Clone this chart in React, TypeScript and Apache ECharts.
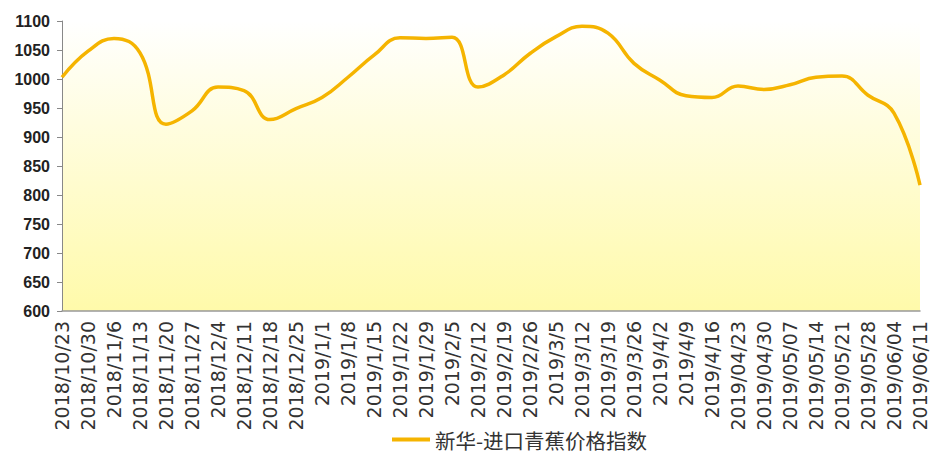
import React, { useEffect, useRef } from "react";
import * as echarts from "echarts";

const categories = [
  "2018/10/23", "2018/10/30", "2018/11/6", "2018/11/13", "2018/11/20", "2018/11/27",
  "2018/12/4", "2018/12/11", "2018/12/18", "2018/12/25", "2019/1/1", "2019/1/8",
  "2019/1/15", "2019/1/22", "2019/1/29", "2019/2/5", "2019/2/12", "2019/2/19",
  "2019/2/26", "2019/3/5", "2019/3/12", "2019/3/19", "2019/3/26", "2019/4/2",
  "2019/4/9", "2019/4/16", "2019/04/23", "2019/04/30", "2019/05/07", "2019/05/14",
  "2019/05/21", "2019/05/28", "2019/06/04", "2019/06/11",
];

const indexValues = [
  1003, 1048, 1070, 1045, 922, 945, 986, 980, 930, 949, 968, 1003,
  1041, 1071, 1070, 1072, 986, 1007, 1044, 1073, 1091, 1079, 1027, 998,
  971, 968, 988, 982, 990, 1003, 1005, 972, 941, 817,
];

const seriesName = "新华-进口青蕉价格指数";
const yMin = 600;
const yMax = 1100;
const yInterval = 50;

export default function App() {
  const ref = useRef<HTMLDivElement>(null);
  useEffect(() => {
    if (!ref.current) return;
    const chart = echarts.init(ref.current, undefined, { renderer: "svg" });
    chart.setOption({
      animation: false,
      backgroundColor: "#ffffff",
      grid: {
        left: 62,
        right: 11,
        top: 21,
        bottom: 144,
        show: true,
        borderWidth: 0,
        backgroundColor: new echarts.graphic.LinearGradient(0, 0, 0, 1, [
          { offset: 0, color: "#ffffff" },
          { offset: 0.35, color: "#fffde0" },
          { offset: 1, color: "#fffaaa" },
        ]),
      },
      legend: {
        data: [{ name: seriesName, icon: "rect" }],
        left: 392,
        top: 428,
        padding: 0,
        itemWidth: 38,
        itemHeight: 4,
        textStyle: {
          fontSize: 20.5,
          lineHeight: 23,
          color: "#333",
          fontFamily: "Noto Sans CJK SC",
        },
      },
      xAxis: {
        type: "category",
        data: categories,
        boundaryGap: false,
        axisLine: { show: true, lineStyle: { color: "#999", width: 1.5 } },
        axisTick: { show: false },
        axisLabel: {
          rotate: 90,
          interval: 0,
          margin: 10,
          fontSize: 19,
          color: "#333",
          fontFamily: "DejaVu Sans",
        },
        splitLine: { show: false },
      },
      yAxis: {
        type: "value",
        min: yMin,
        max: yMax,
        interval: yInterval,
        axisLine: { show: true, lineStyle: { color: "#888", width: 1 } },
        axisTick: { show: true, length: 5, lineStyle: { color: "#888" } },
        axisLabel: {
          margin: 12,
          fontSize: 16,
          fontWeight: "bold",
          color: "#222",
          fontFamily: "Liberation Sans",
          formatter: (v: number) => String(v),
        },
        splitLine: { show: false },
      },
      series: [
        {
          name: seriesName,
          type: "line",
          data: indexValues,
          smooth: 0.45,
          symbol: "none",
          lineStyle: { color: "#f5b400", width: 3.5 },
          itemStyle: { color: "#f5b400" },
        },
      ],
    });
    return () => chart.dispose();
  }, []);
  return (
    <div
      ref={ref}
      style={{ position: "absolute", left: 0, top: 0, width: 931, height: 455 }}
    />
  );
}
